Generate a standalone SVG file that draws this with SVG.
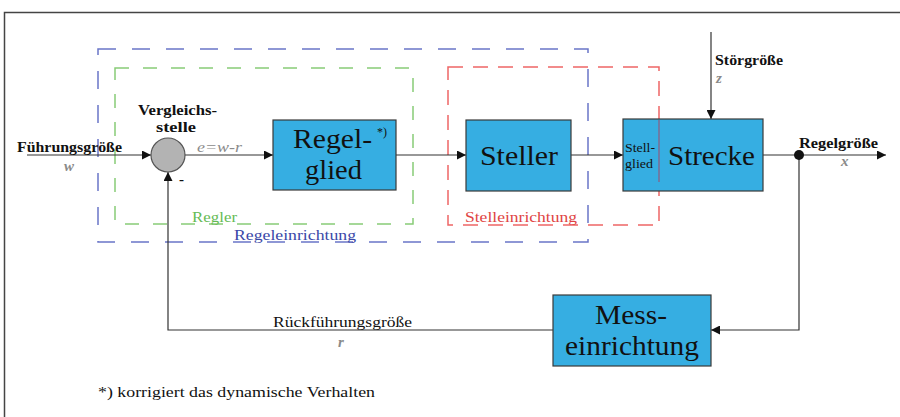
<svg xmlns="http://www.w3.org/2000/svg" width="900" height="417" viewBox="0 0 900 417" font-family="'Liberation Serif', 'DejaVu Serif', serif">
<defs>
<marker id="ah" viewBox="0 0 10 10" refX="10" refY="5" markerWidth="15" markerHeight="9" markerUnits="userSpaceOnUse" orient="auto">
<path d="M0,0 L10,5 L0,10 z" fill="#111"/>
</marker>
<style>
text{font-family:'Liberation Serif','DejaVu Serif',serif;fill:#111}
.box{fill:#36aee2;stroke:#3a3a3a;stroke-width:1.2}
.ln{fill:none;stroke:#333;stroke-width:1.2}
.var{font-style:italic;font-weight:bold;fill:#8a8a8a;font-size:15px}
.lbl{font-weight:bold;font-size:15px}
.big{font-size:28px}
</style>
</defs>
<rect x="0" y="0" width="900" height="417" fill="#fff"/>
<path d="M4.5,417 V12.5 H900" fill="none" stroke="#444" stroke-width="1.5"/>

<g id="regeleinrichtung">
<rect x="98" y="49" width="490" height="193" fill="none" stroke="#6a76c8" stroke-width="1.5" stroke-dasharray="18 16"/>
<text x="234" y="240" font-size="15px" textLength="122" lengthAdjust="spacingAndGlyphs" style="fill:#3a48a8">Regeleinrichtung</text>
</g>
<g id="regler">
<rect x="115" y="68" width="298" height="156" fill="none" stroke="#88cc77" stroke-width="1.5" stroke-dasharray="14 14"/>
<text x="192" y="222" font-size="15px" textLength="45" lengthAdjust="spacingAndGlyphs" style="fill:#66bb55">Regler</text>
</g>
<g id="stelleinrichtung">
<rect x="448" y="67" width="211" height="158" fill="none" stroke="#ee6666" stroke-width="1.5" stroke-dasharray="15 10"/>
<text x="465" y="222" font-size="15px" textLength="112" lengthAdjust="spacingAndGlyphs" style="fill:#e04444">Stelleinrichtung</text>
</g>

<g id="connectors">
<line class="ln" x1="27" y1="155" x2="151" y2="155" marker-end="url(#ah)"/>
<line class="ln" x1="185" y1="155" x2="273" y2="155" marker-end="url(#ah)"/>
<line class="ln" x1="396" y1="155" x2="466" y2="155" marker-end="url(#ah)"/>
<line class="ln" x1="571" y1="155" x2="623" y2="155" marker-end="url(#ah)"/>
<line class="ln" x1="763" y1="155" x2="886" y2="155" marker-end="url(#ah)"/>
<line class="ln" x1="711" y1="32" x2="711" y2="119" marker-end="url(#ah)"/>
<polyline class="ln" points="799,155 799,330 711,330" marker-end="url(#ah)"/>
<polyline class="ln" points="553,330 168,330 168,172" marker-end="url(#ah)"/>
<circle cx="799" cy="155" r="5" fill="#111"/>
</g>

<g id="vergleichsstelle">
<circle cx="168" cy="155" r="17" fill="#b3b3b3" stroke="#555" stroke-width="1.2"/>
<text x="138" y="115" class="lbl" textLength="79" lengthAdjust="spacingAndGlyphs">Vergleichs-</text>
<text x="156" y="132" class="lbl" textLength="40" lengthAdjust="spacingAndGlyphs">stelle</text>
<text x="179" y="184" class="lbl" font-size="18px">-</text>
</g>
<g id="fuehrungsgroesse">
<text x="17" y="152" class="lbl" textLength="105" lengthAdjust="spacingAndGlyphs">Führungsgröße</text>
<text x="64" y="171" class="var">w</text>
<text x="197" y="152" class="var" style="font-weight:normal" textLength="45" lengthAdjust="spacingAndGlyphs">e=w-r</text>
</g>
<g id="regelglied">
<rect class="box" x="273" y="120" width="123" height="70"/>
<text x="293" y="148" class="big" textLength="79" lengthAdjust="spacingAndGlyphs">Regel-</text>
<text x="305" y="179" class="big" textLength="57" lengthAdjust="spacingAndGlyphs">glied</text>
<text x="377" y="136" font-size="12px">*)</text>
</g>
<g id="steller">
<rect class="box" x="466" y="120" width="105" height="71"/>
<text x="480" y="165" class="big" textLength="78" lengthAdjust="spacingAndGlyphs">Steller</text>
</g>
<g id="strecke">
<rect class="box" x="623" y="119" width="140" height="72"/>
<line x1="659" y1="120" x2="659" y2="182" stroke="#a04a6a" stroke-width="1"/>
<text x="625" y="152" font-size="13px" textLength="30" lengthAdjust="spacingAndGlyphs">Stell-</text>
<text x="625" y="168" font-size="13px" textLength="28" lengthAdjust="spacingAndGlyphs">glied</text>
<text x="668" y="165" class="big" textLength="87" lengthAdjust="spacingAndGlyphs">Strecke</text>
</g>
<g id="stoergroesse">
<text x="715" y="65" class="lbl" textLength="68" lengthAdjust="spacingAndGlyphs">Störgröße</text>
<text x="716" y="83" class="var">z</text>
</g>
<g id="regelgroesse">
<text x="799" y="148" class="lbl" textLength="79" lengthAdjust="spacingAndGlyphs">Regelgröße</text>
<text x="841" y="166" class="var">x</text>
</g>
<g id="messeinrichtung">
<rect class="box" x="553" y="295" width="158" height="71"/>
<text x="595" y="324" class="big" textLength="72" lengthAdjust="spacingAndGlyphs">Mess-</text>
<text x="565" y="355" class="big" textLength="134" lengthAdjust="spacingAndGlyphs">einrichtung</text>
</g>
<g id="rueckfuehrungsgroesse">
<text x="273" y="327" font-size="15px" textLength="139" lengthAdjust="spacingAndGlyphs">Rückführungsgröße</text>
<text x="338" y="347" class="var">r</text>
</g>
<g id="fussnote">
<text x="98" y="397" font-size="15px" textLength="277" lengthAdjust="spacingAndGlyphs">*)  korrigiert das dynamische Verhalten</text>
</g>
</svg>
